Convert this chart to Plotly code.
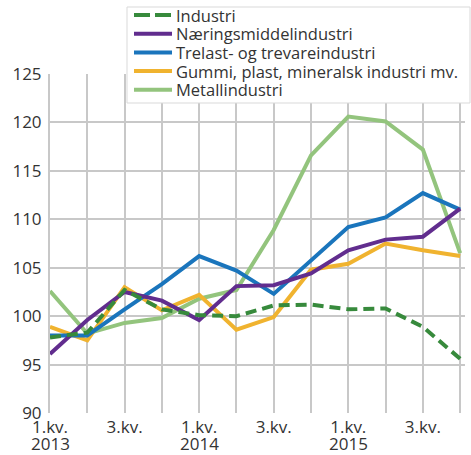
import plotly.graph_objects as go

quarters = ["2013K1", "2013K2", "2013K3", "2013K4", "2014K1", "2014K2", "2014K3", "2014K4",
            "2015K1", "2015K2", "2015K3", "2015K4"]
tick_labels = ["1.kv.", "", "3.kv.", "", "1.kv.", "", "3.kv.", "",
               "1.kv.", "", "3.kv.", ""]
year_labels = ["2013", "", "", "", "2014", "", "", "", "2015", "", "", ""]

industri = [97.8, 98.3, 102.7, 100.7, 100.1, 100.0, 101.1, 101.2, 100.7, 100.8, 98.9, 95.6]
naeringsmiddel = [96.1, 99.6, 102.5, 101.6, 99.6, 103.1, 103.2, 104.4, 106.8, 107.9, 108.2, 111.1]
trelast = [98.0, 98.0, 100.7, 103.3, 106.2, 104.7, 102.3, 105.8, 109.2, 110.2, 112.7, 111.0]
gummi = [98.9, 97.5, 103.0, 100.6, 102.2, 98.6, 99.9, 104.8, 105.4, 107.5, 106.8, 106.2]
metall = [102.6, 98.2, 99.3, 99.8, 101.8, 102.7, 108.9, 116.6, 120.6, 120.1, 117.2, 106.5]

# (name, values, colour, dash) in legend order
series = [
    ("Industri", industri, "#378a3c", "11px,6px"),
    ("Næringsmiddelindustri", naeringsmiddel, "#612d8e", "solid"),
    ("Trelast- og trevareindustri", trelast, "#1a75bc", "solid"),
    ("Gummi, plast, mineralsk industri mv.", gummi, "#f0b32f", "solid"),
    ("Metallindustri", metall, "#93c47d", "solid"),
]

W, H = 471, 455
L, R, T, B = 50, 6, 74, 42
pw, ph = W - L - R, H - T - B


def px_x(p):
    return (p - L) / pw


def px_y(p):
    return (H - B - p) / ph


x = list(range(len(quarters)))
fig = go.Figure()
# draw order: Metall at the bottom, Industri on top
for name, vals, color, dash in reversed(series):
    fig.add_trace(go.Scatter(
        x=x, y=vals, name=name, mode="lines",
        line=dict(color=color, width=4, dash=dash),
        showlegend=False, hoverinfo="x+y+name",
    ))

# custom legend box
shapes = [dict(type="rect", xref="paper", yref="paper", layer="above",
               x0=px_x(127), x1=px_x(470), y0=px_y(103), y1=px_y(7),
               fillcolor="white", line=dict(color="#d9d9d9", width=1))]
annotations = []
for i, (name, vals, color, dash) in enumerate(series):
    yc = 15 + i * 18.7
    shapes.append(dict(type="line", xref="paper", yref="paper", layer="above",
                       x0=px_x(134), x1=px_x(172), y0=px_y(yc), y1=px_y(yc),
                       line=dict(color=color, width=4, dash="16px,5px" if dash != "solid" else "solid")))
    annotations.append(dict(xref="paper", yref="paper", x=px_x(175), y=px_y(yc),
                            xanchor="left", yanchor="middle", text=name, showarrow=False,
                            borderpad=0,
                            font=dict(size=16.5, color="#333333")))

for xi, yl in zip(x, year_labels):
    if yl:
        annotations.append(dict(xref="x", yref="paper", x=xi, y=px_y(443.5),
                                xanchor="center", yanchor="middle", text=yl, showarrow=False,
                                font=dict(size=17, color="#333333")))

grid = "#c8c8c8"
fig.update_layout(
    template="none",
    width=W, height=H,
    margin=dict(l=L, r=R, t=T, b=B, autoexpand=False),
    paper_bgcolor="white", plot_bgcolor="white",
    font=dict(family="Open Sans", size=17, color="#333333"),
    showlegend=False,
    shapes=shapes, annotations=annotations,
    xaxis=dict(
        range=[0, 11.13], tickmode="array", tickvals=x, ticktext=tick_labels,
        showgrid=True, gridcolor=grid, gridwidth=2, automargin=False,
        showline=False, zeroline=False, ticks="", tickangle=0,
        tickfont=dict(size=17), ticklabelstandoff=2,
    ),
    yaxis=dict(
        range=[90, 125], dtick=5, showgrid=True, gridcolor=grid, gridwidth=2,
        automargin=False,
        showline=True, linecolor=grid, linewidth=2, zeroline=False, ticks="",
        tickfont=dict(size=17), ticklabelstandoff=3,
    ),
)
fig.write_html("out.html", config={"displayModeBar": False},
               post_script="document.body.style.margin='0';document.body.style.overflow='hidden';")
